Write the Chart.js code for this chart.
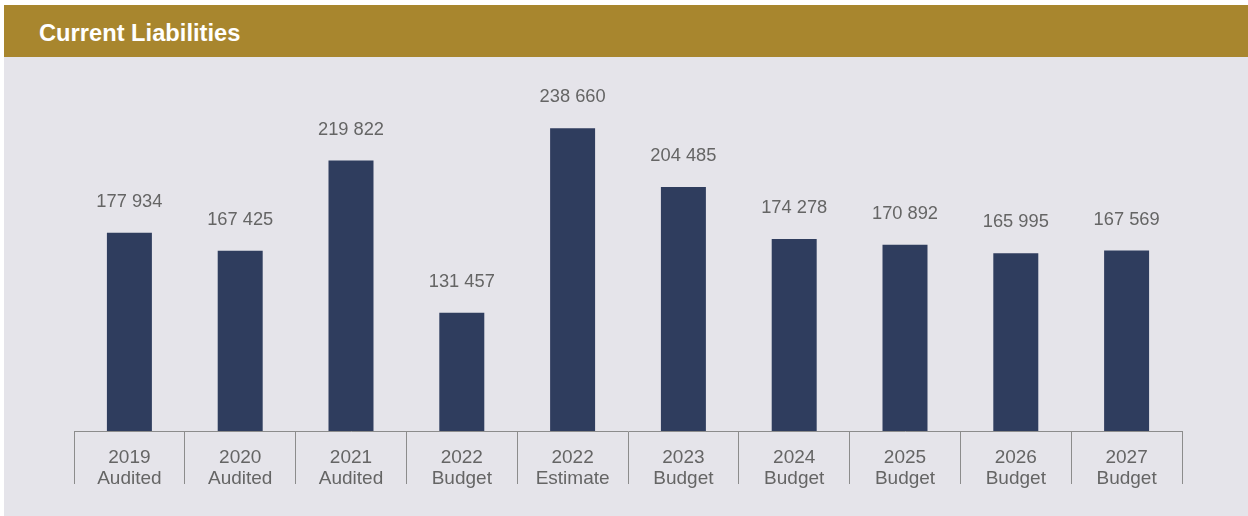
<!DOCTYPE html>
<html>
<head>
<meta charset="utf-8">
<title>Current Liabilities</title>
<script src="https://cdn.jsdelivr.net/npm/chart.js@4"></script>
<style>
  html, body { margin: 0; padding: 0; background: #ffffff; }
  body { width: 1248px; height: 516px; position: relative; overflow: hidden; font-family: "Liberation Sans", Arial, sans-serif; }
  .header { position: absolute; left: 4px; top: 5px; width: 1244px; height: 52px; background: #a8862e; }
  .header h1 { position: absolute; left: 35px; top: 17px; margin: 0; font-size: 23.7px; line-height: 23px; font-weight: bold; color: #ffffff; }
  .panel { position: absolute; left: 4px; top: 57px; width: 1244px; height: 459px; background: #e5e4ea; }
</style>
</head>
<body>
<div class="header"><h1>Current Liabilities</h1></div>
<div class="panel"><canvas id="myChart"></canvas></div>
<script>
const years = ['2019', '2020', '2021', '2022', '2022', '2023', '2024', '2025', '2026', '2027']
const kinds = ['Audited', 'Audited', 'Audited', 'Budget', 'Estimate', 'Budget', 'Budget', 'Budget', 'Budget', 'Budget']
const liabilities = [177934, 167425, 219822, 131457, 238660, 204485, 174278, 170892, 165995, 167569]

// value axis does not start at zero
const yMin = 62800
const yMax = 280000

const fmt = v => String(v).replace(/\B(?=(\d{3})+(?!\d))/g, ' ')

// writes the amount above each bar
const valueLabels = {
  id: 'valueLabels',
  afterDatasetsDraw(chart) {
    const ctx = chart.ctx
    const meta = chart.getDatasetMeta(0)
    ctx.save()
    ctx.font = '18.3px "Liberation Sans", Arial, sans-serif'
    ctx.fillStyle = '#656565'
    ctx.textAlign = 'center'
    ctx.textBaseline = 'middle'
    meta.data.forEach((bar, i) => {
      ctx.fillText(fmt(liabilities[i]), bar.x, bar.y - 31)
    })
    ctx.restore()
  }
}

const ctx = document.getElementById('myChart')

const grafica = new Chart(ctx, {
  type: 'bar',
  data: {
    labels: years.map((y, i) => [y, kinds[i]]),
    datasets: [{
      data: liabilities,
      base: yMin,
      backgroundColor: '#2f3d5e',
      borderWidth: 0,
      barPercentage: 0.406,
      categoryPercentage: 1
    }]
  },
  options: {
    responsive: true,
    maintainAspectRatio: false,
    animation: false,
    layout: {
      padding: { left: 70, right: 66, top: 0, bottom: 20 }
    },
    plugins: {
      legend: { display: false },
      tooltip: { enabled: false }
    },
    scales: {
      x: {
        // long tick marks split the categories, labels sit between them
        afterFit: scale => { scale.height = 65 },
        grid: {
          offset: true,
          drawOnChartArea: false,
          drawTicks: true,
          tickLength: 53,
          color: '#8c8c8c',
          lineWidth: 1
        },
        border: { display: true, color: '#8c8c8c', width: 1 },
        ticks: {
          color: '#656565',
          padding: -36,
          maxRotation: 0,
          autoSkip: false,
          font: { family: '"Liberation Sans", Arial, sans-serif', size: 19, lineHeight: 1.08 }
        }
      },
      y: {
        display: false,
        min: yMin,
        max: yMax
      }
    }
  },
  plugins: [valueLabels]
})
</script>
</body>
</html>
